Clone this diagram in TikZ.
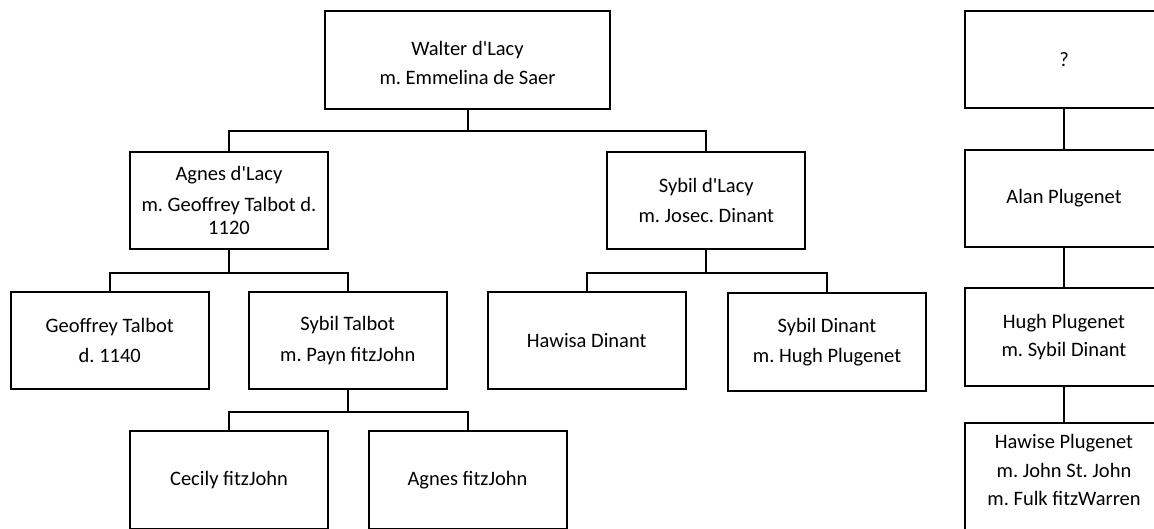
\documentclass[tikz,border=0pt]{standalone}
\usepackage{fontspec}
\setmainfont{Carlito}[Ligatures=TeXOff]
\begin{document}
\frenchspacing
\begin{tikzpicture}[x=1pt, y=-1pt,
  person/.style={draw=black, line width=2pt, rectangle,
    minimum width=198pt, minimum height=97.6pt, inner sep=2pt,
    align=center, font=\fontsize{20.5}{24.5}\selectfont\frenchspacing},
  link/.style={draw=black, line width=2pt}]
\useasboundingbox (0,0) rectangle (1154,529);

% d'Lacy line
\node[person, minimum width=285pt, minimum height=97.7pt] (walter) at (467.5,59.9)
  {\rule{0pt}{20pt}Walter d'Lacy\\[5pt]m. Emmelina de Saer};
\node[person] (agnesL) at (229,200.5)
  {Agnes d'Lacy\\[6pt]m. Geoffrey Talbot d.\\[-1pt]1120};
\node[person] (sybilL) at (706.3,200.5)
  {Sybil d'Lacy\\[5pt]m. Josec. Dinant};

% Talbot and Dinant children
\node[person] (geoffT) at (109.8,340.5) {Geoffrey Talbot\\[6pt]d. 1140};
\node[person] (sybilT) at (347.8,340.5) {Sybil Talbot\\[6pt]m. Payn fitzJohn};
\node[person] (hawisaD) at (586.7,340.4) {Hawisa Dinant};
\node[person] (sybilD) at (827,342.2) {Sybil Dinant\\[6pt]m. Hugh Plugenet};

% fitzJohn daughters
\node[person, minimum height=98pt] (cecilyF) at (229,480.3) {Cecily fitzJohn};
\node[person, minimum height=98pt] (agnesF) at (467.5,480.3) {Agnes fitzJohn};

% Plugenet line
\node[person, minimum height=96.7pt] (unknown) at (1064,59.35) {?};
\node[person, minimum height=96.7pt] (alan) at (1064,198.35) {Alan Plugenet};
\node[person, minimum height=97.4pt] (hugh) at (1064,337) {Hugh Plugenet\\[4pt]m. Sybil Dinant};
\node[person, minimum height=106.2pt] (hawise) at (1064,476.4)
  {Hawise Plugenet\\[4pt]m. John St. John\\[4pt]m. Fulk fitzWarren\rule[-13pt]{0pt}{1pt}};

% descent lines
\draw[link] (walter.south) -- ++(0,21.3) -| (agnesL.north);
\draw[link] (walter.south) -- ++(0,21.3) -| (sybilL.north);
\draw[link] (agnesL.south) -- ++(0,22.4) -| (geoffT.north);
\draw[link] (agnesL.south) -- ++(0,22.4) -| (sybilT.north);
\draw[link] (sybilL.south) -- ++(0,22.4) -| (hawisaD.north);
\draw[link] (sybilL.south) -- ++(0,22.4) -| (sybilD.north);
\draw[link] (sybilT.south) -- ++(0,21.4) -| (cecilyF.north);
\draw[link] (sybilT.south) -- ++(0,21.4) -| (agnesF.north);
\draw[link] (unknown.south) -- (alan.north);
\draw[link] (alan.south) -- (hugh.north);
\draw[link] (hugh.south) -- (hawise.north);
\end{tikzpicture}
\end{document}
